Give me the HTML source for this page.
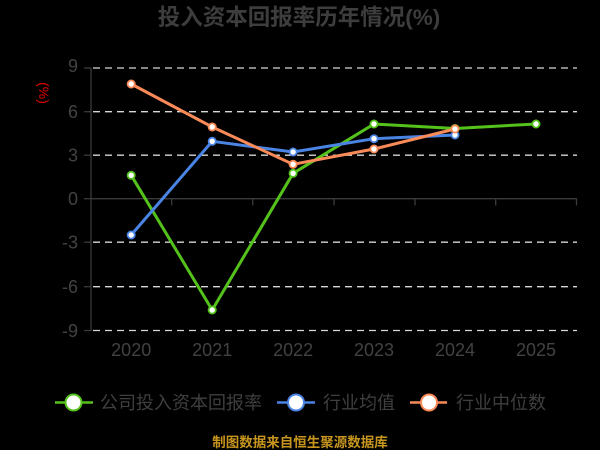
<!DOCTYPE html>
<html>
<head>
<meta charset="utf-8">
<style>
  html,body{margin:0;padding:0;background:#000;}
  svg{display:block;}
  text{font-family:"Liberation Sans","Noto Sans CJK SC",sans-serif;}
</style>
</head>
<body>
<svg width="600" height="450" viewBox="0 0 600 450" xmlns="http://www.w3.org/2000/svg">
  <rect x="0" y="0" width="600" height="450" fill="#000"/>
  <!-- Title -->
  <text x="299" y="25" text-anchor="middle" font-size="22.5" font-weight="bold" fill="#3d3d3d">投入资本回报率历年情况(%)</text>

  <!-- axis unit -->
  <text transform="translate(39,93) rotate(90)" text-anchor="middle" font-size="14" fill="#e60000">(%)</text>

  <!-- gridlines -->
  <g stroke="#d8d8d8" stroke-width="1.3" stroke-dasharray="7,5">
    <line x1="93" y1="68" x2="577" y2="68"/>
    <line x1="93" y1="111.7" x2="577" y2="111.7"/>
    <line x1="93" y1="155.2" x2="577" y2="155.2"/>
    <line x1="93" y1="242.2" x2="577" y2="242.2"/>
    <line x1="93" y1="286.7" x2="577" y2="286.7"/>
    <line x1="93" y1="330.5" x2="577" y2="330.5"/>
  </g>

  <!-- y axis -->
  <g stroke="#3a3a3a" stroke-width="1.3">
    <line x1="91" y1="68" x2="91" y2="331"/>
    <line x1="84" y1="68" x2="91" y2="68"/>
    <line x1="84" y1="111.7" x2="91" y2="111.7"/>
    <line x1="84" y1="155.2" x2="91" y2="155.2"/>
    <line x1="84" y1="198.7" x2="91" y2="198.7"/>
    <line x1="84" y1="242.2" x2="91" y2="242.2"/>
    <line x1="84" y1="286.7" x2="91" y2="286.7"/>
    <line x1="84" y1="330.5" x2="91" y2="330.5"/>
    <!-- x axis at 0 -->
    <line x1="91" y1="198.7" x2="577" y2="198.7"/>
    <line x1="171.7" y1="198.7" x2="171.7" y2="205.5"/>
    <line x1="252.7" y1="198.7" x2="252.7" y2="205.5"/>
    <line x1="334" y1="198.7" x2="334" y2="205.5"/>
    <line x1="415" y1="198.7" x2="415" y2="205.5"/>
    <line x1="495.7" y1="198.7" x2="495.7" y2="205.5"/>
    <line x1="576.5" y1="198.7" x2="576.5" y2="205.5"/>
  </g>

  <!-- y labels -->
  <g font-size="18" fill="#424242" text-anchor="end">
    <text x="78" y="72">9</text>
    <text x="78" y="118">6</text>
    <text x="78" y="161.5">3</text>
    <text x="78" y="205">0</text>
    <text x="78" y="248.5">-3</text>
    <text x="78" y="293">-6</text>
    <text x="78" y="337">-9</text>
  </g>

  <!-- x labels -->
  <g font-size="18" fill="#424242" text-anchor="middle">
    <text x="131.2" y="356">2020</text>
    <text x="212.2" y="356">2021</text>
    <text x="293.1" y="356">2022</text>
    <text x="374" y="356">2023</text>
    <text x="455" y="356">2024</text>
    <text x="536" y="356">2025</text>
  </g>

  <!-- Green series -->
  <polyline fill="none" stroke="#55c21b" stroke-width="3" stroke-linejoin="round"
    points="131.2,175.3 212.2,310 293.1,173.3 374,124 455,128.5 536,124"/>
  <g fill="#fff" stroke="#55c21b" stroke-width="1.8">
    <circle cx="131.2" cy="175.3" r="3.6"/>
    <circle cx="212.2" cy="310" r="3.6"/>
    <circle cx="293.1" cy="173.3" r="3.6"/>
    <circle cx="374" cy="124" r="3.6"/>
    <circle cx="455" cy="128.5" r="3.6"/>
    <circle cx="536" cy="124" r="3.6"/>
  </g>

  <!-- Blue series -->
  <polyline fill="none" stroke="#4a84e4" stroke-width="3" stroke-linejoin="round"
    points="131.2,235 212.2,141.3 293.1,152 374,138.7 455,135"/>
  <g fill="#fff" stroke="#4a84e4" stroke-width="1.8">
    <circle cx="131.2" cy="235" r="3.6"/>
    <circle cx="212.2" cy="141.3" r="3.6"/>
    <circle cx="293.1" cy="152" r="3.6"/>
    <circle cx="374" cy="138.7" r="3.6"/>
    <circle cx="455" cy="135" r="3.6"/>
  </g>

  <!-- Orange series -->
  <polyline fill="none" stroke="#fa8b58" stroke-width="3" stroke-linejoin="round"
    points="131.2,84 212.2,127 293.1,164.3 374,149 455,129"/>
  <g fill="#fff" stroke="#fa8b58" stroke-width="1.8">
    <circle cx="131.2" cy="84" r="3.6"/>
    <circle cx="212.2" cy="127" r="3.6"/>
    <circle cx="293.1" cy="164.3" r="3.6"/>
    <circle cx="374" cy="149" r="3.6"/>
    <circle cx="455" cy="129" r="3.6"/>
  </g>

  <!-- Legend -->
  <g>
    <line x1="55" y1="402.5" x2="93" y2="402.5" stroke="#55c21b" stroke-width="2.5"/>
    <circle cx="73.5" cy="402.5" r="8" fill="#fff" stroke="#55c21b" stroke-width="2"/>
    <text x="100" y="409" font-size="18" fill="#3f3f3f">公司投入资本回报率</text>

    <line x1="277" y1="402.5" x2="315" y2="402.5" stroke="#4a84e4" stroke-width="2.5"/>
    <circle cx="296" cy="402.5" r="8" fill="#fff" stroke="#4a84e4" stroke-width="2"/>
    <text x="323" y="409" font-size="18" fill="#3f3f3f">行业均值</text>

    <line x1="410" y1="402.5" x2="447" y2="402.5" stroke="#fa8b58" stroke-width="2.5"/>
    <circle cx="429" cy="402.5" r="8" fill="#fff" stroke="#fa8b58" stroke-width="2"/>
    <text x="456" y="409" font-size="18" fill="#3f3f3f">行业中位数</text>
  </g>

  <!-- Footer -->
  <text x="300" y="447" text-anchor="middle" font-size="13.5" font-weight="bold" fill="#c8961e">制图数据来自恒生聚源数据库</text>
</svg>
</body>
</html>
